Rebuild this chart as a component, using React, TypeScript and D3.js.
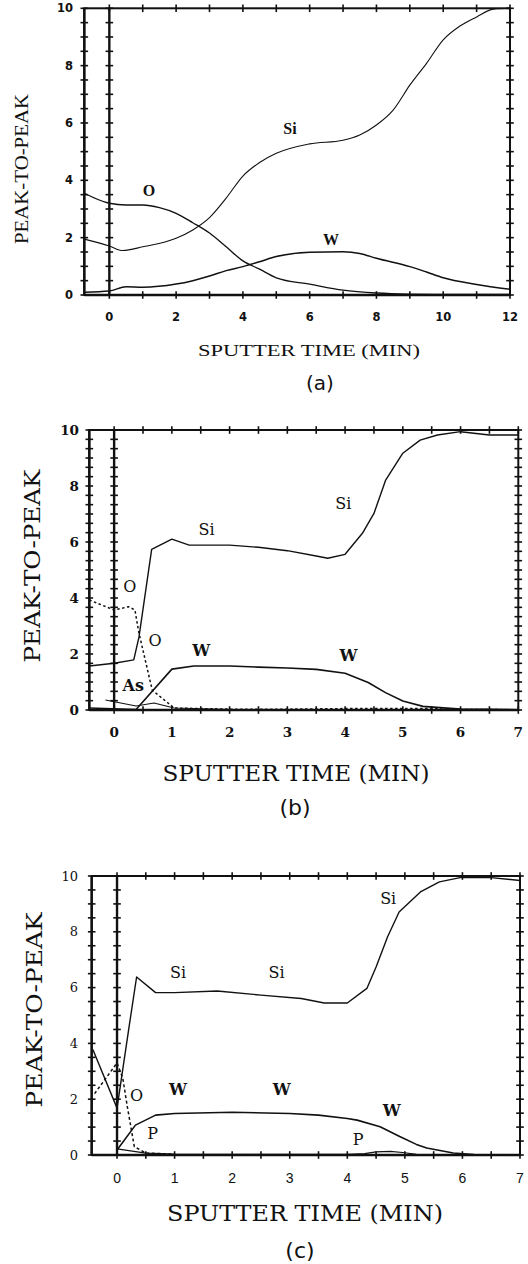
import React from 'react';
import * as d3 from 'd3';

type Pt = [number, number];

// ---------- Panel (a) data: [sputter time (min), peak-to-peak] ----------
const aSi: Pt[] = [[-0.75,1.95],[0,1.71],[0.4,1.55],[1,1.68],[2,1.98],[2.5,2.27],[3,2.7],[3.5,3.38],[4,4.15],[4.5,4.62],[5,4.94],[6,5.27],[7,5.4],[7.5,5.58],[8,5.93],[8.5,6.45],[9,7.32],[9.5,8.08],[10,8.9],[10.5,9.38],[11,9.7],[11.5,9.97],[12,10]];
const aO: Pt[] = [[-0.75,3.55],[0,3.2],[0.5,3.14],[1,3.14],[1.5,3.05],[2,2.85],[2.5,2.52],[3,2.16],[3.5,1.68],[4,1.19],[4.5,0.9],[5,0.6],[6,0.38],[7,0.17],[8,0.07],[9,0.03],[10,0.02],[12,0.02]];
const aW: Pt[] = [[-0.75,0.1],[0,0.14],[0.5,0.29],[1,0.27],[2,0.38],[2.5,0.5],[3,0.66],[3.5,0.85],[4,0.99],[4.5,1.16],[5,1.34],[6,1.49],[7,1.51],[7.5,1.45],[8,1.28],[9,0.99],[9.5,0.8],[10,0.6],[11,0.37],[12,0.2]];

// ---------- Panel (b) data ----------
const bSi: Pt[] = [[-0.43,1.57],[0,1.67],[0.34,1.79],[0.43,2.6],[0.65,5.74],[1,6.1],[1.3,5.89],[2,5.89],[2.5,5.81],[3,5.69],[3.5,5.5],[3.7,5.42],[4,5.56],[4.3,6.31],[4.5,7.02],[4.7,8.2],[5,9.17],[5.3,9.64],[5.6,9.82],[6,9.94],[6.5,9.82],[7,9.82]];
const bO: Pt[] = [[-0.43,3.93],[0,3.57],[0.25,3.69],[0.36,3.57],[0.43,2.75],[0.66,0.71],[1.04,0.07],[2,0.03],[3,0.03],[4,0.05],[5,0.05],[5.5,0.05],[6,0.02],[7,0.01]];
const bW: Pt[] = [[-0.43,0.07],[0.38,0.02],[1,1.46],[1.38,1.57],[2,1.57],[2.5,1.53],[3,1.5],[3.5,1.45],[4,1.31],[4.4,0.98],[4.7,0.62],[5,0.32],[5.35,0.13],[6,0.03],[7,0.01]];
const bAs: Pt[] = [[-0.15,0.36],[0.38,0.14],[0.69,0.25],[1.04,0.07],[2,0.02],[4,0.01],[7,0.0]];

// ---------- Panel (c) data ----------
const cSi: Pt[] = [[-0.42,3.78],[0,1.68],[0.2,4.47],[0.34,6.38],[0.67,5.82],[1,5.82],[1.74,5.88],[2.5,5.73],[3.2,5.61],[3.6,5.45],[4,5.45],[4.34,5.97],[4.5,6.74],[4.7,7.82],[4.9,8.71],[5.27,9.43],[5.6,9.79],[5.96,9.94],[6.5,9.94],[7,9.84]];
const cO: Pt[] = [[-0.39,2.2],[0,3.3],[0.1,2.75],[0.18,1.72],[0.3,0.3],[0.5,0.07],[1,0.03]];
const cW: Pt[] = [[0,0.18],[0.32,1.07],[0.67,1.43],[1,1.49],[2,1.53],[3,1.49],[3.5,1.43],[4,1.31],[4.17,1.25],[4.57,1.01],[4.91,0.66],[5.2,0.38],[5.38,0.25],[5.84,0.07],[6.2,0.02],[7,0.0]];
const cP: Pt[] = [[0,0.22],[0.5,0.07],[1,0.03],[4,0.02],[4.3,0.05],[4.5,0.11],[4.75,0.13],[5,0.08],[5.2,0.02],[7,0.0]];

// ---------- Tick labels ----------
const aXTicks = [0, 2, 4, 6, 8, 10, 12];
const bcXTicks = [0, 1, 2, 3, 4, 5, 6, 7];
const yTicks = [0, 2, 4, 6, 8, 10];

// ---------- Curve labels ----------
type Lab = { text: string; t: number; v: number; bold?: boolean };
const aLabels: Lab[] = [
  { text: 'Si', t: 5.41, v: 5.82, bold: true },
  { text: 'O', t: 1.19, v: 3.66, bold: true },
  { text: 'W', t: 6.64, v: 1.95, bold: true },
];
const bLabels: Lab[] = [
  { text: 'Si', t: 1.6, v: 6.43 },
  { text: 'Si', t: 3.97, v: 7.38 },
  { text: 'O', t: 0.27, v: 4.4 },
  { text: 'O', t: 0.71, v: 2.5 },
  { text: 'As', t: 0.33, v: 0.89, bold: true },
  { text: 'W', t: 1.51, v: 2.14, bold: true },
  { text: 'W', t: 4.06, v: 1.96, bold: true },
];
const cLabels: Lab[] = [
  { text: 'Si', t: 1.06, v: 6.53 },
  { text: 'Si', t: 2.77, v: 6.53 },
  { text: 'Si', t: 4.71, v: 9.19 },
  { text: 'O', t: 0.34, v: 2.15 },
  { text: 'W', t: 1.06, v: 2.33, bold: true },
  { text: 'W', t: 2.86, v: 2.33, bold: true },
  { text: 'W', t: 4.77, v: 1.61, bold: true },
  { text: 'P', t: 0.62, v: 0.78 },
  { text: 'P', t: 4.19, v: 0.57 },
];

type Series = { data: Pt[]; dash?: string; width?: number };

type PanelCfg = {
  xDomain: [number, number];
  xRange: [number, number];
  yRange: [number, number];
  xMinor: number;
  yMinor: number;
  xTicks: number[];
  series: Series[];
  labels: Lab[];
  smooth: boolean;
  tickFontX: { family: string; size: number; weight: string; y: number };
  tickFontY: { family: string; size: number; weight: string; x: number };
  labelFont: { family: string; size: number };
  yTitle: { x: number; y: number; len: number; size: number; family: string };
  xTitle: { x: number; y: number; len: number; size: number; family: string };
  tag: { text: string; x: number; y: number; size: number; family: string };
};

const panels: PanelCfg[] = [
  {
    xDomain: [-0.75, 12], xRange: [84.3, 510], yRange: [295, 8.3],
    xMinor: 1, yMinor: 0.5, xTicks: aXTicks,
    series: [{ data: aSi, width: 1.1 }, { data: aO, width: 1.3 }, { data: aW, width: 1.5 }],
    labels: aLabels, smooth: true,
    tickFontX: { family: 'DejaVu Sans', size: 11.5, weight: 'bold', y: 321 },
    tickFontY: { family: 'DejaVu Sans', size: 11.5, weight: 'bold', x: 73 },
    labelFont: { family: 'Liberation Serif', size: 16 },
    yTitle: { x: 28, y: 169, len: 150, size: 18, family: 'Liberation Serif' },
    xTitle: { x: 309, y: 356, len: 222, size: 17, family: 'Liberation Serif' },
    tag: { text: '(a)', x: 320, y: 390, size: 20, family: 'DejaVu Sans' },
  },
  {
    xDomain: [-0.43, 7], xRange: [89.3, 518.3], yRange: [710, 430],
    xMinor: 0.5, yMinor: 1 / 3, xTicks: bcXTicks,
    series: [{ data: bSi, width: 1.4 }, { data: bO, dash: '2.5,2.5', width: 1.5 }, { data: bW, width: 1.6 }, { data: bAs, width: 1.1 }],
    labels: bLabels, smooth: false,
    tickFontX: { family: 'DejaVu Serif', size: 13.5, weight: 'bold', y: 737 },
    tickFontY: { family: 'DejaVu Serif', size: 13.5, weight: 'bold', x: 79 },
    labelFont: { family: 'DejaVu Serif', size: 16 },
    yTitle: { x: 40, y: 566, len: 193, size: 23, family: 'DejaVu Serif' },
    xTitle: { x: 296, y: 781, len: 267, size: 23, family: 'DejaVu Serif' },
    tag: { text: '(b)', x: 295, y: 815, size: 22, family: 'DejaVu Sans' },
  },
  {
    xDomain: [-0.44, 7], xRange: [91.7, 520], yRange: [1155, 876],
    xMinor: 0.5, yMinor: 0.5, xTicks: bcXTicks,
    series: [{ data: cSi, width: 1.4 }, { data: cO, dash: '3,2.5', width: 1.5 }, { data: cW, width: 1.6 }, { data: cP, width: 1.2 }],
    labels: cLabels, smooth: false,
    tickFontX: { family: 'Liberation Sans', size: 14, weight: 'normal', y: 1183 },
    tickFontY: { family: 'DejaVu Serif', size: 13, weight: 'normal', x: 78 },
    labelFont: { family: 'DejaVu Serif', size: 16 },
    yTitle: { x: 42, y: 1010, len: 195, size: 23, family: 'DejaVu Serif' },
    xTitle: { x: 305, y: 1221, len: 276, size: 23, family: 'DejaVu Serif' },
    tag: { text: '(c)', x: 300, y: 1258, size: 22, family: 'DejaVu Sans' },
  },
];

function Panel({ cfg }: { cfg: PanelCfg }) {
  const x = d3.scaleLinear().domain(cfg.xDomain).range(cfg.xRange);
  const y = d3.scaleLinear().domain([0, 10]).range(cfg.yRange);
  const line = d3.line<Pt>()
    .x(d => x(d[0]))
    .y(d => y(d[1]))
    .curve(cfg.smooth ? d3.curveMonotoneX : d3.curveLinear);

  const [xl, xr] = cfg.xRange;
  const yb = y(0), yt = y(10);
  const x0 = x(0);
  const xMinorTicks = d3.range(0, cfg.xDomain[1] + 1e-6, cfg.xMinor);
  const yMinorTicks = d3.range(0, 10 + 1e-6, cfg.yMinor);
  const tk = 3.8;

  return (
    <g>
      <rect x={xl} y={yt} width={xr - xl} height={yb - yt} fill="none" stroke="#111" strokeWidth={2} />
      <line x1={xl} x2={xl} y1={yt} y2={yb} stroke="#111" strokeWidth={2.4} />
      <line x1={x0} x2={x0} y1={yt} y2={yb} stroke="#111" strokeWidth={2.4} />
      <line x1={xl} x2={xr} y1={yb} y2={yb} stroke="#111" strokeWidth={2.4} />
      {xMinorTicks.map((t, i) => (
        <g key={'xt' + i} stroke="#111" strokeWidth={1.6}>
          <line x1={x(t)} x2={x(t)} y1={yt - tk} y2={yt + tk} />
          <line x1={x(t)} x2={x(t)} y1={yb - tk} y2={yb + tk} />
        </g>
      ))}
      {yMinorTicks.map((v, i) => (
        <g key={'yt' + i} stroke="#111" strokeWidth={1.6}>
          <line x1={xl - tk} x2={xl + tk} y1={y(v)} y2={y(v)} />
          <line x1={x0 - tk} x2={x0 + tk} y1={y(v)} y2={y(v)} />
          <line x1={xr - tk} x2={xr + tk} y1={y(v)} y2={y(v)} />
        </g>
      ))}
      {cfg.xTicks.map(t => (
        <text key={'xl' + t} x={x(t)} y={cfg.tickFontX.y} textAnchor="middle"
          fontFamily={cfg.tickFontX.family} fontSize={cfg.tickFontX.size} fontWeight={cfg.tickFontX.weight} fill="#111">{t}</text>
      ))}
      {yTicks.map(v => (
        <text key={'yl' + v} x={cfg.tickFontY.x} y={y(v)} textAnchor="end" dominantBaseline="central"
          fontFamily={cfg.tickFontY.family} fontSize={cfg.tickFontY.size} fontWeight={cfg.tickFontY.weight} fill="#111">{v}</text>
      ))}
      {cfg.series.map((s, i) => (
        <path key={'s' + i} d={line(s.data) || ''} fill="none" stroke="#111"
          strokeWidth={s.width ?? 1.3} strokeDasharray={s.dash} strokeLinejoin="round" />
      ))}
      {cfg.labels.map((l, i) => (
        <text key={'lb' + i} x={x(l.t)} y={y(l.v)} textAnchor="middle" dominantBaseline="central"
          fontFamily={cfg.labelFont.family} fontSize={cfg.labelFont.size} fontWeight={l.bold ? 'bold' : 'normal'} fill="#111">{l.text}</text>
      ))}
      <text transform={`translate(${cfg.yTitle.x},${cfg.yTitle.y}) rotate(-90)`} textAnchor="middle"
        fontFamily={cfg.yTitle.family} fontSize={cfg.yTitle.size} textLength={cfg.yTitle.len} lengthAdjust="spacingAndGlyphs" fill="#111">PEAK-TO-PEAK</text>
      <text x={cfg.xTitle.x} y={cfg.xTitle.y} textAnchor="middle"
        fontFamily={cfg.xTitle.family} fontSize={cfg.xTitle.size} textLength={cfg.xTitle.len} lengthAdjust="spacingAndGlyphs" fill="#111">SPUTTER TIME (MIN)</text>
      <text x={cfg.tag.x} y={cfg.tag.y} textAnchor="middle" fontFamily={cfg.tag.family} fontSize={cfg.tag.size} fill="#111">{cfg.tag.text}</text>
    </g>
  );
}

export default function App() {
  return (
    <svg width={528} height={1264} viewBox="0 0 528 1264"
      style={{ position: 'absolute', left: 0, top: 0, background: '#fff' }}>
      <rect x={0} y={0} width={528} height={1264} fill="#fff" />
      {panels.map((p, i) => <Panel key={i} cfg={p} />)}
    </svg>
  );
}
